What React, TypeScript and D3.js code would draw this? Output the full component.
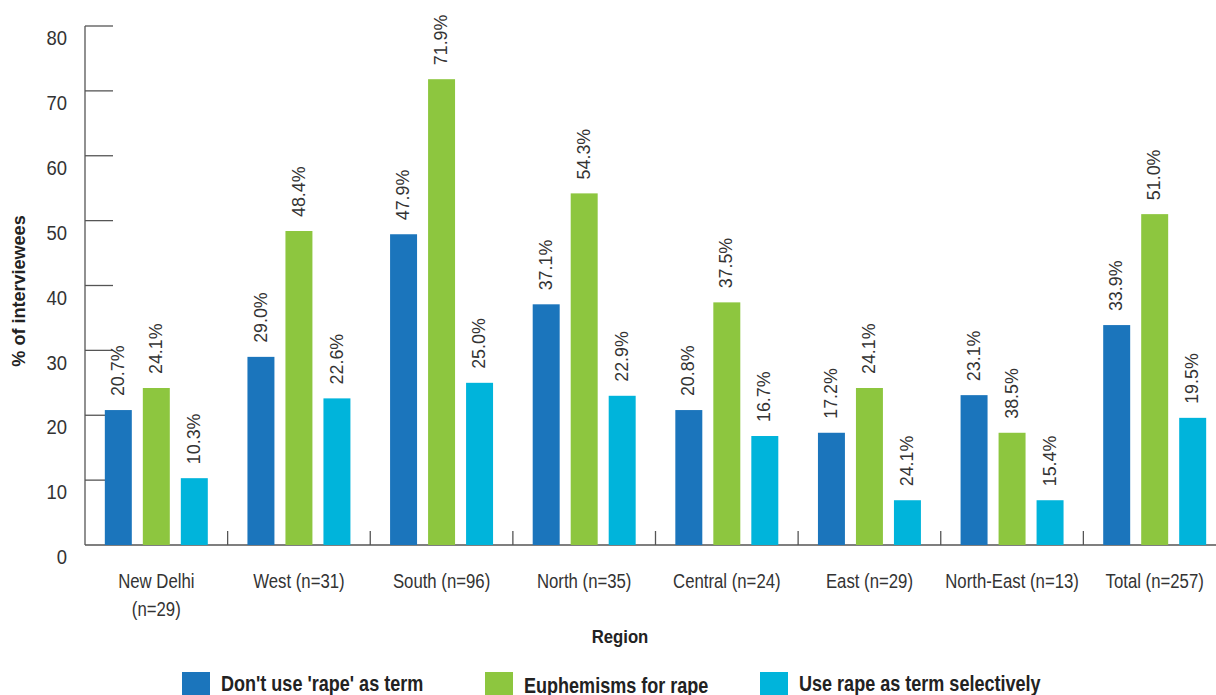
import React from "react";
import * as d3 from "d3";

const categories = ["New Delhi", "West (n=31)", "South (n=96)", "North (n=35)", "Central (n=24)", "East (n=29)", "North-East (n=13)", "Total (n=257)"];
const categoryLines = [["New Delhi", "(n=29)"], ["West (n=31)"], ["South (n=96)"], ["North (n=35)"], ["Central (n=24)"], ["East (n=29)"], ["North-East (n=13)"], ["Total (n=257)"]];
const seriesNames = ["Don't use 'rape' as term", "Euphemisms for rape", "Use rape as term selectively"];
// bar heights as drawn
const dontUse = [20.8, 29.0, 47.9, 37.1, 20.8, 17.3, 23.1, 33.9];
const euphemisms = [24.2, 48.4, 71.8, 54.2, 37.4, 24.2, 17.3, 51.0];
const selectively = [10.3, 22.6, 25.0, 23.0, 16.8, 6.9, 6.9, 19.6];
// value labels as printed
const dontUseLabels = ["20.7%", "29.0%", "47.9%", "37.1%", "20.8%", "17.2%", "23.1%", "33.9%"];
const euphemismsLabels = ["24.1%", "48.4%", "71.9%", "54.3%", "37.5%", "24.1%", "38.5%", "51.0%"];
const selectivelyLabels = ["10.3%", "22.6%", "25.0%", "22.9%", "16.7%", "24.1%", "15.4%", "19.5%"];
const yTicks = [0, 10, 20, 30, 40, 50, 60, 70, 80];
const colors = ["#1b75bc", "#8dc63f", "#00b4db"];

const FONT = "'Liberation Sans', Arial, sans-serif";

export default function App() {
  const W = 1216, H = 695;
  const left = 85, right = 1226, y0 = 545, yTop = 26;
  const y = d3.scaleLinear().domain([0, 80]).range([y0, yTop]);
  const x0 = d3.scaleBand<string>().domain(categories).range([left, right]);
  const bw = x0.bandwidth();
  const x1 = d3.scaleBand<string>().domain(seriesNames).range([bw * 0.139, bw * 0.861]).paddingInner(0.29);
  const values = [dontUse, euphemisms, selectively];
  const labels = [dontUseLabels, euphemismsLabels, selectivelyLabels];
  const axisColor = "#555";
  const textColor = "#333";
  const legendX = [182, 485, 760];
  return (
    <svg width={W} height={H} style={{ position: "absolute", left: 0, top: 0, background: "#fff" }} fontFamily={FONT}>
      {/* y axis */}
      <line x1={left} x2={left} y1={yTop} y2={y0} stroke={axisColor} strokeWidth={1.3} />
      {yTicks.map((t) => (
        <g key={t}>
          {t > 0 && <line x1={left} x2={left + 28} y1={y(t)} y2={y(t)} stroke={axisColor} strokeWidth={1.3} />}
          <text transform={`translate(67,${y(t) + 12}) scale(0.9,1)`} dy="0.35em" textAnchor="end" fontSize={20.5} fill={textColor}>{t}</text>
        </g>
      ))}
      {/* x axis */}
      <line x1={left} x2={right} y1={y0} y2={y0} stroke={axisColor} strokeWidth={1.3} />
      {categories.slice(1).map((c) => (
        <line key={c} x1={x0(c)!} x2={x0(c)!} y1={y0 - 14} y2={y0} stroke={axisColor} strokeWidth={1.3} />
      ))}
      {/* bars */}
      {categories.map((c, i) => (
        <g key={c} transform={`translate(${x0(c)},0)`}>
          {seriesNames.map((s, j) => {
            const v = values[j][i];
            const bx = x1(s)!;
            const cx = bx + x1.bandwidth() / 2;
            return (
              <g key={s}>
                <rect x={bx} y={y(v)} width={x1.bandwidth()} height={y0 - y(v)} fill={colors[j]} />
                <text transform={`translate(${cx - 1},${y(v) - 14}) rotate(-90) scale(0.94,1)`} dy="0.35em" fontSize={19} fill={textColor}>{labels[j][i]}</text>
              </g>
            );
          })}
        </g>
      ))}
      {/* category labels */}
      {categories.map((c, i) => {
        const cx = x0(c)! + bw / 2;
        return (
          <g key={c}>
            {categoryLines[i].map((l, k) => (
              <text key={k} transform={`translate(${cx},${588 + k * 28}) scale(0.86,1)`} textAnchor="middle" fontSize={19.5} fill={textColor}>{l}</text>
            ))}
          </g>
        );
      })}
      {/* axis titles */}
      <text transform="translate(620,643) scale(0.88,1)" textAnchor="middle" fontSize={19} fontWeight="bold" fill="#222">Region</text>
      <text transform="translate(25,291) rotate(-90) scale(0.95,1)" textAnchor="middle" fontSize={19} fontWeight="bold" fill="#222">% of interviewees</text>
      {/* legend */}
      {seriesNames.map((s, j) => (
        <g key={s}>
          <rect x={legendX[j]} y={672} width={28} height={28} fill={colors[j]} />
          <text transform={`translate(${legendX[j] + 39},${j === 1 ? 693 : 691}) scale(0.82,1)`} fontSize={22} fontWeight="bold" fill="#222">{s}</text>
        </g>
      ))}
    </svg>
  );
}
